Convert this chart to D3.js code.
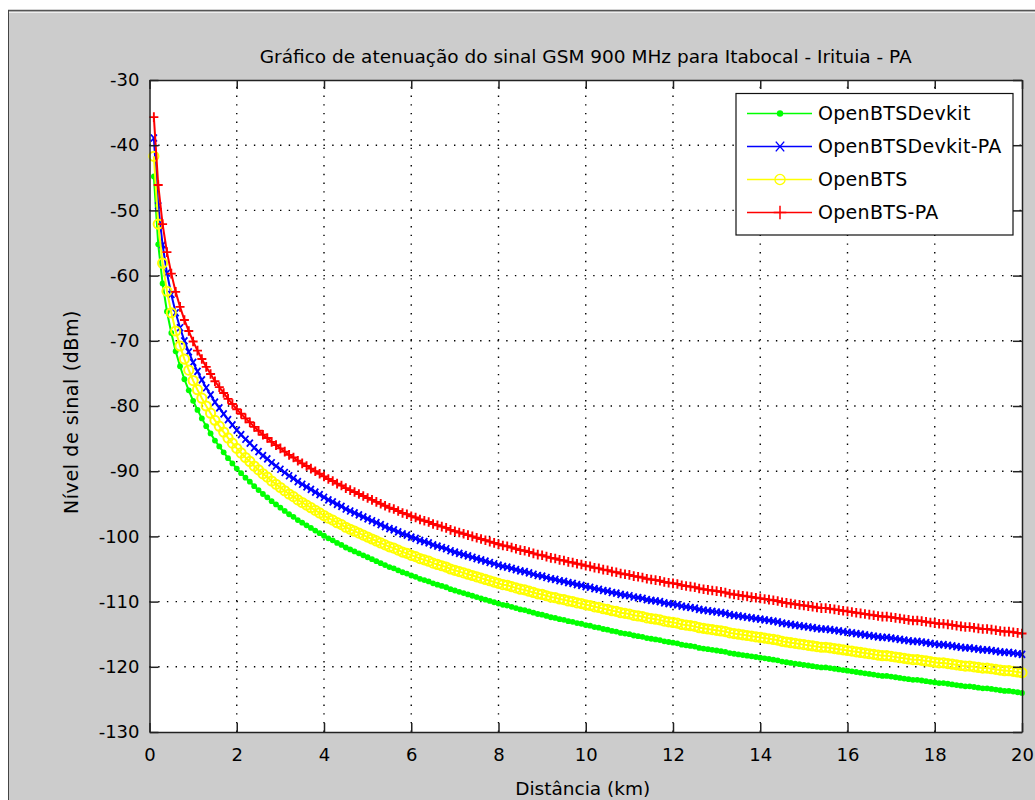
<!DOCTYPE html>
<html>
<head>
<meta charset="utf-8">
<script src="https://cdn.jsdelivr.net/npm/d3@7"></script>
<style>
  body { margin: 0; background: #fff; }
  text { font-family: "DejaVu Sans", sans-serif; fill: #000; }
</style>
</head>
<body>
<svg width="1035" height="800"></svg>
<script>
const width = 1035;
const height = 800;

const svg = d3.select('svg');

// distância (km)
const distance = [0.1,0.2,0.3,0.4,0.5,0.6,0.7,0.8,0.9,1.0,
1.1,1.2,1.3,1.4,1.5,1.6,1.7,1.8,1.9,2.0,
2.1,2.2,2.3,2.4,2.5,2.6,2.7,2.8,2.9,3.0,
3.1,3.2,3.3,3.4,3.5,3.6,3.7,3.8,3.9,4.0,
4.1,4.2,4.3,4.4,4.5,4.6,4.7,4.8,4.9,5.0,
5.1,5.2,5.3,5.4,5.5,5.6,5.7,5.8,5.9,6.0,
6.1,6.2,6.3,6.4,6.5,6.6,6.7,6.8,6.9,7.0,
7.1,7.2,7.3,7.4,7.5,7.6,7.7,7.8,7.9,8.0,
8.1,8.2,8.3,8.4,8.5,8.6,8.7,8.8,8.9,9.0,
9.1,9.2,9.3,9.4,9.5,9.6,9.7,9.8,9.9,10.0,
10.1,10.2,10.3,10.4,10.5,10.6,10.7,10.8,10.9,11.0,
11.1,11.2,11.3,11.4,11.5,11.6,11.7,11.8,11.9,12.0,
12.1,12.2,12.3,12.4,12.5,12.6,12.7,12.8,12.9,13.0,
13.1,13.2,13.3,13.4,13.5,13.6,13.7,13.8,13.9,14.0,
14.1,14.2,14.3,14.4,14.5,14.6,14.7,14.8,14.9,15.0,
15.1,15.2,15.3,15.4,15.5,15.6,15.7,15.8,15.9,16.0,
16.1,16.2,16.3,16.4,16.5,16.6,16.7,16.8,16.9,17.0,
17.1,17.2,17.3,17.4,17.5,17.6,17.7,17.8,17.9,18.0,
18.1,18.2,18.3,18.4,18.5,18.6,18.7,18.8,18.9,19.0,
19.1,19.2,19.3,19.4,19.5,19.6,19.7,19.8,19.9,20.0];

const openBTSDevkit = [-44.8,-55.2,-61.2,-65.5,-68.8,-71.6,-73.9,-75.9,-77.6,-79.2,
-80.6,-81.9,-83.1,-84.2,-85.3,-86.2,-87.1,-88.0,-88.8,-89.6,
-90.3,-91.0,-91.6,-92.3,-92.9,-93.5,-94.0,-94.6,-95.1,-95.6,
-96.1,-96.6,-97.0,-97.5,-97.9,-98.3,-98.7,-99.1,-99.5,-99.9,
-100.3,-100.6,-101.0,-101.3,-101.7,-102.0,-102.3,-102.6,-102.9,-103.2,
-103.5,-103.8,-104.1,-104.4,-104.7,-104.9,-105.2,-105.5,-105.7,-106.0,
-106.2,-106.5,-106.7,-106.9,-107.2,-107.4,-107.6,-107.8,-108.1,-108.3,
-108.5,-108.7,-108.9,-109.1,-109.3,-109.5,-109.7,-109.9,-110.1,-110.3,
-110.5,-110.6,-110.8,-111.0,-111.2,-111.3,-111.5,-111.7,-111.9,-112.0,
-112.2,-112.4,-112.5,-112.7,-112.8,-113.0,-113.1,-113.3,-113.4,-113.6,
-113.7,-113.9,-114.0,-114.2,-114.3,-114.5,-114.6,-114.8,-114.9,-115.0,
-115.2,-115.3,-115.4,-115.6,-115.7,-115.8,-115.9,-116.1,-116.2,-116.3,
-116.4,-116.6,-116.7,-116.8,-116.9,-117.1,-117.2,-117.3,-117.4,-117.5,
-117.6,-117.7,-117.9,-118.0,-118.1,-118.2,-118.3,-118.4,-118.5,-118.6,
-118.7,-118.8,-118.9,-119.0,-119.2,-119.3,-119.4,-119.5,-119.6,-119.7,
-119.8,-119.9,-120.0,-120.1,-120.1,-120.2,-120.3,-120.4,-120.5,-120.6,
-120.7,-120.8,-120.9,-121.0,-121.1,-121.2,-121.3,-121.4,-121.4,-121.5,
-121.6,-121.7,-121.8,-121.9,-122.0,-122.0,-122.1,-122.2,-122.3,-122.4,
-122.5,-122.5,-122.6,-122.7,-122.8,-122.9,-123.0,-123.0,-123.1,-123.2,
-123.3,-123.3,-123.4,-123.5,-123.6,-123.7,-123.7,-123.8,-123.9,-124.0];

const openBTSDevkitPA = [-38.9,-49.3,-55.3,-59.6,-62.9,-65.7,-68.0,-70.0,-71.7,-73.3,
-74.7,-76.0,-77.2,-78.3,-79.4,-80.3,-81.2,-82.1,-82.9,-83.7,
-84.4,-85.1,-85.7,-86.4,-87.0,-87.6,-88.1,-88.7,-89.2,-89.7,
-90.2,-90.7,-91.1,-91.6,-92.0,-92.4,-92.8,-93.2,-93.6,-94.0,
-94.4,-94.7,-95.1,-95.4,-95.8,-96.1,-96.4,-96.7,-97.0,-97.3,
-97.6,-97.9,-98.2,-98.5,-98.8,-99.0,-99.3,-99.6,-99.8,-100.1,
-100.3,-100.6,-100.8,-101.0,-101.3,-101.5,-101.7,-101.9,-102.2,-102.4,
-102.6,-102.8,-103.0,-103.2,-103.4,-103.6,-103.8,-104.0,-104.2,-104.4,
-104.6,-104.7,-104.9,-105.1,-105.3,-105.4,-105.6,-105.8,-106.0,-106.1,
-106.3,-106.5,-106.6,-106.8,-106.9,-107.1,-107.2,-107.4,-107.5,-107.7,
-107.8,-108.0,-108.1,-108.3,-108.4,-108.6,-108.7,-108.9,-109.0,-109.1,
-109.3,-109.4,-109.5,-109.7,-109.8,-109.9,-110.0,-110.2,-110.3,-110.4,
-110.5,-110.7,-110.8,-110.9,-111.0,-111.2,-111.3,-111.4,-111.5,-111.6,
-111.7,-111.8,-112.0,-112.1,-112.2,-112.3,-112.4,-112.5,-112.6,-112.7,
-112.8,-112.9,-113.0,-113.1,-113.3,-113.4,-113.5,-113.6,-113.7,-113.8,
-113.9,-114.0,-114.1,-114.2,-114.2,-114.3,-114.4,-114.5,-114.6,-114.7,
-114.8,-114.9,-115.0,-115.1,-115.2,-115.3,-115.4,-115.5,-115.5,-115.6,
-115.7,-115.8,-115.9,-116.0,-116.1,-116.1,-116.2,-116.3,-116.4,-116.5,
-116.6,-116.6,-116.7,-116.8,-116.9,-117.0,-117.1,-117.1,-117.2,-117.3,
-117.4,-117.4,-117.5,-117.6,-117.7,-117.8,-117.8,-117.9,-118.0,-118.1];

const openBTS = [-41.7,-52.1,-58.1,-62.4,-65.7,-68.5,-70.8,-72.8,-74.5,-76.1,
-77.5,-78.8,-80.0,-81.1,-82.2,-83.1,-84.0,-84.9,-85.7,-86.5,
-87.2,-87.9,-88.5,-89.2,-89.8,-90.4,-90.9,-91.5,-92.0,-92.5,
-93.0,-93.5,-93.9,-94.4,-94.8,-95.2,-95.6,-96.0,-96.4,-96.8,
-97.2,-97.5,-97.9,-98.2,-98.6,-98.9,-99.2,-99.5,-99.8,-100.1,
-100.4,-100.7,-101.0,-101.3,-101.6,-101.8,-102.1,-102.4,-102.6,-102.9,
-103.1,-103.4,-103.6,-103.8,-104.1,-104.3,-104.5,-104.7,-105.0,-105.2,
-105.4,-105.6,-105.8,-106.0,-106.2,-106.4,-106.6,-106.8,-107.0,-107.2,
-107.4,-107.5,-107.7,-107.9,-108.1,-108.2,-108.4,-108.6,-108.8,-108.9,
-109.1,-109.3,-109.4,-109.6,-109.7,-109.9,-110.0,-110.2,-110.3,-110.5,
-110.6,-110.8,-110.9,-111.1,-111.2,-111.4,-111.5,-111.7,-111.8,-111.9,
-112.1,-112.2,-112.3,-112.5,-112.6,-112.7,-112.8,-113.0,-113.1,-113.2,
-113.3,-113.5,-113.6,-113.7,-113.8,-114.0,-114.1,-114.2,-114.3,-114.4,
-114.5,-114.6,-114.8,-114.9,-115.0,-115.1,-115.2,-115.3,-115.4,-115.5,
-115.6,-115.7,-115.8,-115.9,-116.1,-116.2,-116.3,-116.4,-116.5,-116.6,
-116.7,-116.8,-116.9,-117.0,-117.0,-117.1,-117.2,-117.3,-117.4,-117.5,
-117.6,-117.7,-117.8,-117.9,-118.0,-118.1,-118.2,-118.3,-118.3,-118.4,
-118.5,-118.6,-118.7,-118.8,-118.9,-118.9,-119.0,-119.1,-119.2,-119.3,
-119.4,-119.4,-119.5,-119.6,-119.7,-119.8,-119.9,-119.9,-120.0,-120.1,
-120.2,-120.2,-120.3,-120.4,-120.5,-120.6,-120.6,-120.7,-120.8,-120.9];

const openBTSPA = [-35.7,-46.1,-52.1,-56.4,-59.7,-62.5,-64.8,-66.8,-68.5,-70.1,
-71.5,-72.8,-74.0,-75.1,-76.2,-77.1,-78.0,-78.9,-79.7,-80.5,
-81.2,-81.9,-82.5,-83.2,-83.8,-84.4,-84.9,-85.5,-86.0,-86.5,
-87.0,-87.5,-87.9,-88.4,-88.8,-89.2,-89.6,-90.0,-90.4,-90.8,
-91.2,-91.5,-91.9,-92.2,-92.6,-92.9,-93.2,-93.5,-93.8,-94.1,
-94.4,-94.7,-95.0,-95.3,-95.6,-95.8,-96.1,-96.4,-96.6,-96.9,
-97.1,-97.4,-97.6,-97.8,-98.1,-98.3,-98.5,-98.7,-99.0,-99.2,
-99.4,-99.6,-99.8,-100.0,-100.2,-100.4,-100.6,-100.8,-101.0,-101.2,
-101.4,-101.5,-101.7,-101.9,-102.1,-102.2,-102.4,-102.6,-102.8,-102.9,
-103.1,-103.3,-103.4,-103.6,-103.7,-103.9,-104.0,-104.2,-104.3,-104.5,
-104.6,-104.8,-104.9,-105.1,-105.2,-105.4,-105.5,-105.7,-105.8,-105.9,
-106.1,-106.2,-106.3,-106.5,-106.6,-106.7,-106.8,-107.0,-107.1,-107.2,
-107.3,-107.5,-107.6,-107.7,-107.8,-108.0,-108.1,-108.2,-108.3,-108.4,
-108.5,-108.6,-108.8,-108.9,-109.0,-109.1,-109.2,-109.3,-109.4,-109.5,
-109.6,-109.7,-109.8,-109.9,-110.1,-110.2,-110.3,-110.4,-110.5,-110.6,
-110.7,-110.8,-110.9,-111.0,-111.0,-111.1,-111.2,-111.3,-111.4,-111.5,
-111.6,-111.7,-111.8,-111.9,-112.0,-112.1,-112.2,-112.3,-112.3,-112.4,
-112.5,-112.6,-112.7,-112.8,-112.9,-112.9,-113.0,-113.1,-113.2,-113.3,
-113.4,-113.4,-113.5,-113.6,-113.7,-113.8,-113.9,-113.9,-114.0,-114.1,
-114.2,-114.2,-114.3,-114.4,-114.5,-114.6,-114.6,-114.7,-114.8,-114.9];

const seriesNames = ['OpenBTSDevkit', 'OpenBTSDevkit-PA', 'OpenBTS', 'OpenBTS-PA'];
const seriesValues = [openBTSDevkit, openBTSDevkitPA, openBTS, openBTSPA];
const seriesColors = ['#00ff00', '#0000ff', '#ffff00', '#ff0000'];
const seriesMarkers = ['dot', 'x', 'circle', 'plus'];

const xTicks = [0, 2, 4, 6, 8, 10, 12, 14, 16, 18, 20];
const yTicks = [-130, -120, -110, -100, -90, -80, -70, -60, -50, -40, -30];

const title = 'Gráfico de atenuação do sinal GSM 900 MHz para Itabocal - Irituia - PA';
const xAxisLabel = 'Distância (km)';
const yAxisLabel = 'Nível de sinal (dBm)';

const margin = { top: 80, left: 149.5, right: 13, bottom: 68 };
const innerWidth = width - margin.left - margin.right;
const innerHeight = height - margin.top - margin.bottom;

// fundo tipo janela
svg.append('rect').attr('width', width).attr('height', height).attr('fill', '#fff');
svg.append('rect').attr('x', 8).attr('y', 10).attr('width', width - 8).attr('height', height - 10).attr('fill', '#cccccc');
svg.append('line').attr('x1', 8).attr('x2', width).attr('y1', 10.5).attr('y2', 10.5).attr('stroke', '#555').attr('stroke-width', 1.5);
svg.append('line').attr('x1', 9).attr('x2', width).attr('y1', 12.5).attr('y2', 12.5).attr('stroke', '#eee');
svg.append('line').attr('x1', 8.5).attr('x2', 8.5).attr('y1', 10).attr('y2', height).attr('stroke', '#444');

const xScale = d3.scaleLinear().domain([0, 20]).range([0, innerWidth]);
const yScale = d3.scaleLinear().domain([-130, -30]).range([innerHeight, 0]);

const g = svg.append('g')
    .attr('transform', 'translate(' + margin.left + ', ' + margin.top + ')');

g.append('rect').attr('width', innerWidth).attr('height', innerHeight).attr('fill', '#fff');

// grade pontilhada
const grid = g.append('g').attr('stroke', '#000').attr('stroke-width', 1.4).attr('stroke-dasharray', '1.4,7.3');
grid.selectAll('.gx').data(xTicks.slice(1, -1)).enter().append('line')
    .attr('x1', d => xScale(d)).attr('x2', d => xScale(d))
    .attr('y1', innerHeight).attr('y2', 0);
grid.selectAll('.gy').data(yTicks.slice(1, -1)).enter().append('line')
    .attr('x1', 0).attr('x2', innerWidth)
    .attr('y1', d => yScale(d)).attr('y2', d => yScale(d));

const line = d3.line()
    .x((d, i) => xScale(distance[i]))
    .y(d => yScale(d));

const drawMarker = (sel, type, color, big) => {
    const k = big ? 1.4 : 1;
    if (type === 'dot') {
        sel.append('circle').attr('r', 2.9 * (big ? 1.1 : 1)).attr('fill', color);
    } else if (type === 'circle') {
        sel.append('circle').attr('r', 4.6 * (big ? 1.1 : 1)).attr('fill', 'none').attr('stroke', color).attr('stroke-width', big ? 1.3 : 2);
    } else if (type === 'x') {
        sel.append('path').attr('d', 'M' + (-3 * k) + ',' + (-3.5 * k) + 'L' + (3 * k) + ',' + (3.5 * k) + 'M' + (-3 * k) + ',' + (3.5 * k) + 'L' + (3 * k) + ',' + (-3.5 * k))
            .attr('fill', 'none').attr('stroke', color).attr('stroke-width', big ? 1.4 : 1.8);
    } else {
        sel.append('path').attr('d', 'M' + (-4.5 * k) + ',0L' + (4.5 * k) + ',0M0,' + (-4.8 * k) + 'L0,' + (4.8 * k))
            .attr('fill', 'none').attr('stroke', color).attr('stroke-width', big ? 1.5 : 1.9);
    }
};

const plot = g.append('g');
seriesValues.forEach((vals, s) => {
    const sg = plot.append('g');
    sg.append('path')
        .datum(vals)
        .attr('d', line)
        .attr('fill', 'none')
        .attr('stroke', seriesColors[s])
        .attr('stroke-width', 2);
    const pts = sg.selectAll('g.m').data(vals).enter().append('g')
        .attr('transform', (d, i) => 'translate(' + xScale(distance[i]) + ',' + yScale(d) + ')');
    pts.each(function() { drawMarker(d3.select(this), seriesMarkers[s], seriesColors[s], false); });
});

// eixos com marcas internas
const tickLen = 9;
const fmt = d => String(d);
const xAxisG = g.append('g')
    .attr('transform', 'translate(0,' + innerHeight + ')')
    .call(d3.axisBottom(xScale).tickValues(xTicks).tickFormat(fmt).tickSizeInner(-tickLen).tickSizeOuter(0).tickPadding(14));
const xTopG = g.append('g')
    .call(d3.axisTop(xScale).tickValues(xTicks).tickSizeInner(-tickLen).tickSizeOuter(0));
const yAxisG = g.append('g')
    .call(d3.axisLeft(yScale).tickValues(yTicks).tickFormat(fmt).tickSizeInner(-tickLen).tickSizeOuter(0).tickPadding(10));
const yRightG = g.append('g')
    .attr('transform', 'translate(' + innerWidth + ',0)')
    .call(d3.axisRight(yScale).tickValues(yTicks).tickSizeInner(-tickLen).tickSizeOuter(0));

xTopG.selectAll('.tick text').remove();
yRightG.selectAll('.tick text').remove();

[xAxisG, xTopG, yAxisG, yRightG].forEach(a => {
    a.selectAll('.domain').attr('stroke', '#222').attr('stroke-width', 1.5);
    a.selectAll('.tick line').attr('stroke', '#222').attr('stroke-width', 1.5);
    a.selectAll('.tick text').attr('font-size', 18).attr('font-family', 'DejaVu Sans').attr('fill', '#000');
});
xAxisG.selectAll('.tick text').attr('dy', '0.85em');

g.append('text')
    .text(title)
    .attr('x', innerWidth / 2)
    .attr('y', -17)
    .attr('text-anchor', 'middle')
    .attr('font-size', 18.5);

g.append('text')
    .text(xAxisLabel)
    .attr('x', innerWidth / 2 - 3)
    .attr('y', innerHeight + 63)
    .attr('text-anchor', 'middle')
    .attr('font-size', 18.5);

g.append('text')
    .text(yAxisLabel)
    .attr('transform', 'rotate(-90)')
    .attr('x', -innerHeight / 2 - 6)
    .attr('y', -72)
    .attr('text-anchor', 'middle')
    .attr('font-size', 19)
    .attr('letter-spacing', 0.6);

// legenda
const legend = svg.append('g').attr('transform', 'translate(736,93.5)');
legend.append('rect').attr('width', 277).attr('height', 141.5)
    .attr('fill', '#fff').attr('stroke', '#111').attr('stroke-width', 1.2);
seriesNames.forEach((name, s) => {
    const ly = 20 + s * 33;
    const row = legend.append('g').attr('transform', 'translate(0,' + ly + ')');
    row.append('line').attr('x1', 11).attr('x2', 76).attr('stroke', seriesColors[s]).attr('stroke-width', 1.3);
    const mk = row.append('g').attr('transform', 'translate(44,0)');
    drawMarker(mk, seriesMarkers[s], seriesColors[s], true);
    row.append('text').text(name).attr('x', 82).attr('dy', '0.35em').attr('font-size', 19).attr('letter-spacing', 0.3);
});
</script>
</body>
</html>
